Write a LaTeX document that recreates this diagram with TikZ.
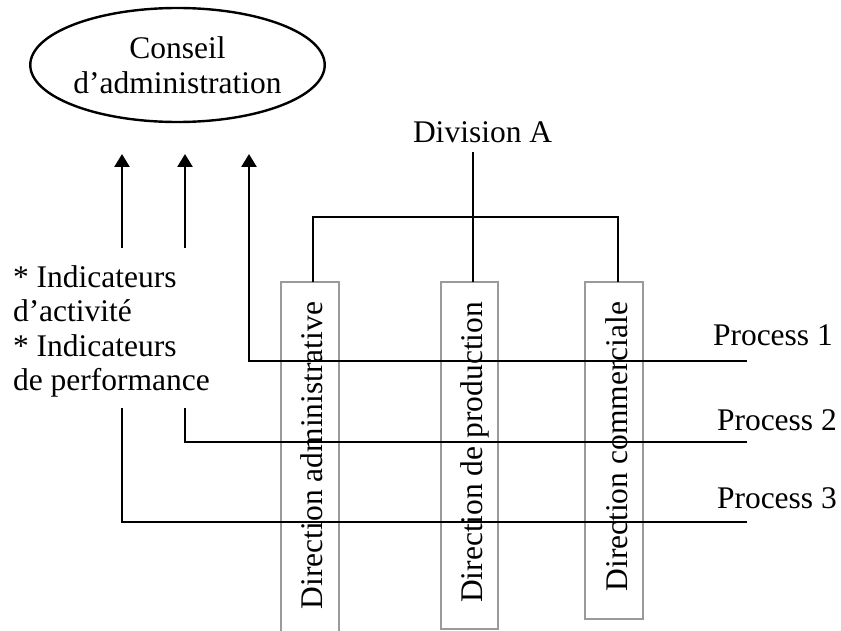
\documentclass[tikz,border=0pt]{standalone}
\usepackage{fontspec}
\setmainfont{Liberation Serif}
\usetikzlibrary{arrows.meta,shapes.geometric}
\definecolor{boxgray}{HTML}{9A9A9A}
\begin{document}
\begin{tikzpicture}[x=0.5pt,y=-0.5pt,
  every node/.style={font=\fontsize{15.75}{17.25}\selectfont, inner sep=0pt, outer sep=0pt},
  conn/.style={line width=1.3pt, black},
  arrowconn/.style={conn, -{Triangle[width=7.5pt,length=6.5pt]}},
  dirbox/.style={draw=boxgray, line width=1.3pt},
  vtext/.style={rotate=90, anchor=base east},
  lbl/.style={anchor=base west}]
\useasboundingbox (0,0) rectangle (841,631);

% council
\node[draw, ellipse, line width=1.2pt, minimum width=137.5pt, minimum height=57pt, align=center] (council) at (177.5,65) {Conseil\\d’administration};

% indicators
\node[anchor=north west, align=left] (ind) at (13,265.5) {* Indicateurs\\d’activité\\* Indicateurs\\de performance};

% division
\node[lbl] (divA) at (413,143) {Division A};

% boxes
\node[dirbox, minimum width=29pt, minimum height=179pt] (adm) at (310,461) {};
\node[dirbox, minimum width=28.5pt, minimum height=173.5pt] (prod) at (469.5,455.5) {};
\node[dirbox, minimum width=29pt, minimum height=168.5pt] (com) at (614,450.5) {};
\node[vtext] (admt) at (322,302) {Direction administrative};
\node[vtext] (prodt) at (482,302) {Direction de production};
\node[vtext] (comt) at (627,302) {Direction commerciale};

% process labels
\node[lbl] (p1) at (713,345) {Process 1};
\node[lbl] (p2) at (717,430) {Process 2};
\node[lbl] (p3) at (717,508) {Process 3};

% coordinates
\coordinate (divtop) at (473,152);
\coordinate (prodtop) at (473,282);
\coordinate (admtop) at (313,282);
\coordinate (comtop) at (618,282);
\coordinate (bl) at (313,217);
\coordinate (br) at (618,217);
\coordinate (s1) at (122,248);
\coordinate (a1) at (122,154);
\coordinate (s2) at (185,248);
\coordinate (a2) at (185,154);
\coordinate (a3) at (249,154);
\coordinate (t2) at (185,408);
\coordinate (t3) at (122,408);
\coordinate (e1) at (747,361);
\coordinate (e2) at (747,442);
\coordinate (e3) at (747,522);

% org connectors
\draw[conn] (divtop) -- (prodtop);
\draw[conn] (admtop) -- (bl) -- (br) -- (comtop);

% arrows & process lines
\draw[arrowconn] (s1) -- (a1);
\draw[arrowconn] (s2) -- (a2);
\draw[arrowconn] (e1) -| (a3);
\draw[conn] (e2) -| (t2);
\draw[conn] (e3) -| (t3);
\end{tikzpicture}
\end{document}
